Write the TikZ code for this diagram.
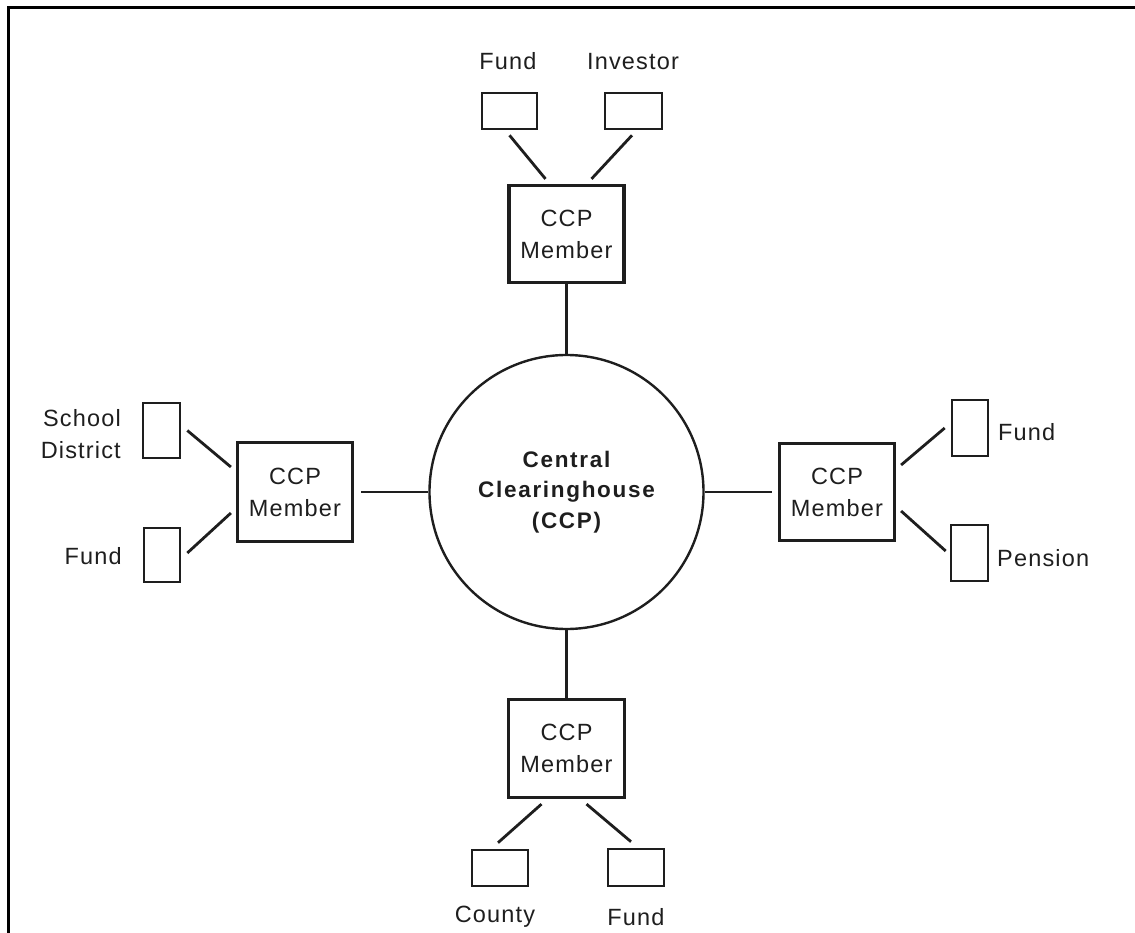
\documentclass[tikz,border=0pt]{standalone}
\usepackage{fontspec}
\setmainfont{Liberation Sans}
\newfontfamily\labelfont{Liberation Sans}[LetterSpace=5]
\newfontfamily\hubfont{Liberation Sans}[LetterSpace=7.5,BoldFont={Liberation Sans Bold}]
\usetikzlibrary{calc}
\definecolor{ink}{RGB}{30,30,30}
\begin{document}
\begin{tikzpicture}[x=1pt,y=-1pt,
  every node/.style={text=ink},
  member/.style={draw=ink, line width=3.2pt, minimum width=115pt, minimum height=97pt,
    inner sep=0pt, align=center, font=\labelfont\fontsize{23.5}{32}\selectfont},
  leaf/.style={draw=ink, line width=2.6pt, inner sep=0pt},
  hub/.style={circle, draw=ink, line width=2.4pt, minimum size=274pt, inner sep=0pt,
    align=center, font=\hubfont\bfseries\fontsize{22.5}{30.5}\selectfont},
  tag/.style={inner sep=0pt, font=\labelfont\fontsize{23.5}{32}\selectfont},
  link/.style={draw=ink, line width=2.8pt},
  frame/.style={draw=black, line width=3.5pt}]
\useasboundingbox (0,0) rectangle (1135,933);

% outer frame: top and left edges
\coordinate (fTR) at (1135,7.5);
\coordinate (fTL) at (8.5,7.5);
\coordinate (fBL) at (8.5,933);
\draw[frame] (fTR) -- (fTL) -- (fBL);

% central clearinghouse
\node[hub] (hub) at (566.5,492) {Central\\Clearinghouse\\(CCP)};

% clearing members
\node[member] (mT) at (566.5,234)   {CCP\\Member};
\node[member, minimum height=99pt] (mL) at (295,492) {CCP\\Member};
\node[member] (mR) at (837,492)   {CCP\\Member};
\node[member, minimum width=116pt, minimum height=98pt] (mB) at (566.5,748.5) {CCP\\Member};

% clients
\node[leaf, minimum width=55pt, minimum height=36pt] (tF) at (509.5,111) {};
\node[leaf, minimum width=57pt, minimum height=36pt] (tI) at (633.5,111) {};
\node[leaf, minimum width=37pt, minimum height=55pt] (lS) at (161.5,430.5) {};
\node[leaf, minimum width=36pt, minimum height=54pt] (lF) at (162,555) {};
\node[leaf, minimum width=36pt, minimum height=56pt] (rF) at (970,428) {};
\node[leaf, minimum width=37pt, minimum height=56pt] (rP) at (969.5,553) {};
\node[leaf, minimum width=56pt, minimum height=36pt] (bC) at (500,868) {};
\node[leaf, minimum width=56pt, minimum height=37pt] (bF) at (636,867.5) {};

% client labels
\node[tag, anchor=base] (tFl) at (508,70) {Fund};
\node[tag, anchor=base] (tIl) at (633,70) {Investor};
\node[tag, anchor=base east, align=right] (lSl) at (121,458) {School\\District};
\node[tag, anchor=base east] (lFl) at (122,564) {Fund};
\node[tag, anchor=base west] (rFl) at (998,440) {Fund};
\node[tag, anchor=base west] (rPl) at (997,566) {Pension};
\node[tag, anchor=base] (bCl) at (495,922) {County};
\node[tag, anchor=base] (bFl) at (636,925) {Fund};

% spokes from the clearinghouse to its members
\draw[link] (hub.north) -- (mT.south);
\draw[link] (hub.south) -- (mB.north);
\draw[link] ($(mL.east)+(7,0)$) -- (hub.west);
\draw[link] (hub.east) -- ($(mR.west)+(-6,0)$);

% members to their clients
\draw[link] ($(tF.south)+(0,5)$) -- ($(mT.north)+(-21,-5)$);
\draw[link] ($(tI.south)+(-1.5,5)$) -- ($(mT.north)+(25,-5)$);
\draw[link] ($(lS.east)+(6,0)$) -- ($(mL.west)+(-5,-25)$);
\draw[link] ($(lF.east)+(6,-2)$) -- ($(mL.west)+(-5,21)$);
\draw[link] ($(mR.east)+(5,-27)$) -- ($(rF.west)+(-6,0)$);
\draw[link] ($(mR.east)+(5,19)$) -- ($(rP.west)+(-4,-2)$);
\draw[link] ($(mB.south)+(-25,5)$) -- ($(bC.north)+(-2,-6)$);
\draw[link] ($(mB.south)+(20,5)$) -- ($(bF.north)+(-5,-6)$);
\end{tikzpicture}
\end{document}
